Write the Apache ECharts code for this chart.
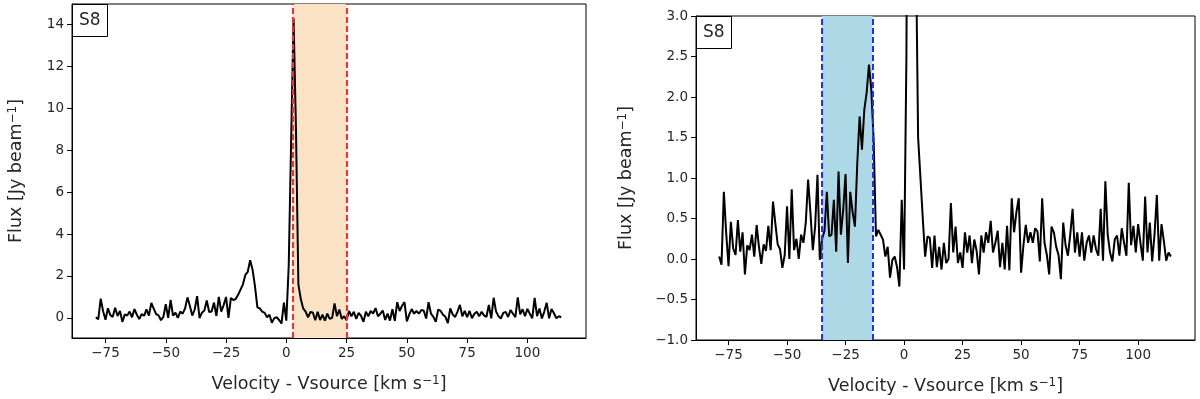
<!DOCTYPE html>
<html>
<head>
<meta charset="utf-8">
<script src="https://cdn.jsdelivr.net/npm/echarts@6/dist/echarts.min.js"></script>
<style>
  html, body { margin: 0; padding: 0; background: #fff; }
  #chart { width: 1200px; height: 399px; }
</style>
</head>
<body>
<div id="chart"></div>
<script>
// velocity channels (km/s)
const velocity = [
  -79, -78, -77, -76, -75, -74, -73, -72, -71, -70,
  -69, -68, -67, -66, -65, -64, -63, -62, -61, -60,
  -59, -58, -57, -56, -55, -54, -53, -52, -51, -50,
  -49, -48, -47, -46, -45, -44, -43, -42, -41, -40,
  -39, -38, -37, -36, -35, -34, -33, -32, -31, -30,
  -29, -28, -27, -26, -25, -24, -23, -22, -21, -20,
  -19, -18, -17, -16, -15, -14, -13, -12, -11, -10,
  -9, -8, -7, -6, -5, -4, -3, -2, -1, 0,
  1, 2, 3, 4, 5, 6, 7, 8, 9, 10,
  11, 12, 13, 14, 15, 16, 17, 18, 19, 20,
  21, 22, 23, 24, 25, 26, 27, 28, 29, 30,
  31, 32, 33, 34, 35, 36, 37, 38, 39, 40,
  41, 42, 43, 44, 45, 46, 47, 48, 49, 50,
  51, 52, 53, 54, 55, 56, 57, 58, 59, 60,
  61, 62, 63, 64, 65, 66, 67, 68, 69, 70,
  71, 72, 73, 74, 75, 76, 77, 78, 79, 80,
  81, 82, 83, 84, 85, 86, 87, 88, 89, 90,
  91, 92, 93, 94, 95, 96, 97, 98, 99, 100,
  101, 102, 103, 104, 105, 106, 107, 108, 109, 110,
  111, 112, 113, 114
];

// left panel spectrum (Jy/beam)
const fluxLeft = [
  0.03, -0.07, 0.92, 0.32, -0.09, 0.46, 0.13, 0.05, 0.48, 0.09,
  0.33, -0.19, 0.17, 0.11, 0.30, 0.03, 0.42, 0.15, -0.06, 0.18,
  0.10, 0.41, 0.11, 0.71, 0.44, 0.18, 0.12, -0.11, 0.05, 0.65,
  0.00, 0.86, 0.11, 0.25, 0.00, 0.30, 0.20, 0.45, 0.98, 0.57,
  0.11, 0.40, 1.04, -0.01, 0.25, 0.35, 0.83, 0.28, 0.30, 0.73,
  0.09, 1.00, 0.30, 0.61, 1.00, 0.00, 0.95, 0.85, 0.90, 1.10,
  1.35, 1.60, 2.05, 2.20, 2.75, 2.30, 1.50, 0.50, 0.45, 0.30,
  0.24, 0.03, 0.15, -0.23, -0.01, 0.03, -0.10, -0.27, 0.73, -0.13,
  2.5, 8.5, 14.3, 9.0, 1.6, 0.9, 0.45, 0.3, 0.03, 0.28,
  0.26, -0.11, 0.29, -0.10, 0.15, -0.13, 0.20, -0.05, 0.00, 0.69,
  0.08, 0.40, -0.05, 0.08, -0.11, 0.33, 0.08, 0.29, -0.05, 0.24,
  0.10, -0.19, 0.29, 0.08, 0.33, 0.20, 0.47, 0.08, 0.20, 0.35,
  -0.10, 0.20, -0.13, 0.41, -0.14, 0.75, 0.33, 0.58, 0.75, -0.17,
  0.17, 0.42, 0.20, 0.33, 0.20, 0.38, 0.34, -0.03, 0.75, 0.20,
  0.05, -0.19, 0.40, 0.33, 0.15, 0.05, -0.25, 0.45, 0.17, 0.04,
  0.30, 0.62, 0.08, 0.33, 0.03, 0.33, -0.02, 0.20, 0.29, 0.08,
  0.29, 0.12, 0.04, 0.62, -0.02, 0.96, 0.30, 0.08, -0.03, 0.24,
  0.29, 0.04, 0.38, 0.20, 0.04, 0.98, 0.17, 0.41, 0.08, 0.43,
  0.20, -0.02, 0.95, 0.08, 0.45, -0.03, 0.30, 0.72, -0.02, 0.43,
  0.22, -0.02, 0.08, 0.03
];

// right panel spectrum (Jy/beam), zoomed y range
const fluxRight = [
  0.03, -0.07, 0.83, 0.32, -0.09, 0.46, 0.13, 0.05, 0.48, 0.09,
  0.33, -0.19, 0.17, 0.11, 0.30, 0.03, 0.42, 0.15, -0.06, 0.18,
  0.10, 0.41, 0.11, 0.71, 0.44, 0.18, 0.12, -0.11, 0.05, 0.65,
  0.00, 0.86, 0.11, 0.25, 0.00, 0.30, 0.20, 0.45, 0.98, 0.57,
  0.11, 0.40, 1.04, -0.01, 0.25, 0.35, 0.83, 0.28, 0.30, 0.73,
  0.09, 1.08, 0.30, 0.61, 1.05, -0.05, 0.83, 0.58, 0.40, 1.18,
  1.76, 1.35, 1.84, 2.05, 2.40, 2.09, 1.47, 0.28, 0.36, 0.30,
  0.24, 0.03, 0.15, -0.23, -0.01, 0.03, -0.10, -0.34, 0.73, -0.13,
  2.5, 8.5, 14.3, 10.0, 4.0, 1.5, 1.0, 0.5, 0.03, 0.28,
  0.26, -0.11, 0.29, -0.10, 0.15, -0.13, 0.20, -0.05, 0.00, 0.69,
  0.08, 0.40, -0.05, 0.08, -0.11, 0.33, 0.08, 0.29, -0.05, 0.24,
  0.10, -0.19, 0.29, 0.08, 0.33, 0.20, 0.47, 0.08, 0.20, 0.35,
  -0.10, 0.20, -0.13, 0.41, -0.14, 0.75, 0.33, 0.58, 0.75, -0.17,
  0.17, 0.42, 0.20, 0.33, 0.20, 0.38, 0.34, -0.03, 0.75, 0.20,
  0.05, -0.19, 0.40, 0.33, 0.15, 0.05, -0.25, 0.45, 0.17, 0.04,
  0.30, 0.62, 0.08, 0.33, 0.03, 0.33, -0.02, 0.20, 0.29, 0.08,
  0.29, 0.12, 0.04, 0.62, -0.02, 0.96, 0.30, 0.08, -0.03, 0.24,
  0.29, 0.04, 0.38, 0.20, 0.04, 0.94, 0.17, 0.41, 0.08, 0.43,
  0.20, -0.02, 0.77, 0.08, 0.45, -0.03, 0.30, 0.79, -0.02, 0.43,
  0.22, -0.02, 0.08, 0.03
];

// integration windows
const windowLeft = [2.5, 25];
const windowRight = [-35, -13.5];

const xTicks = [-75, -50, -25, 0, 25, 50, 75, 100];
const yTicksLeft = [0, 2, 4, 6, 8, 10, 12, 14];
const yTicksRight = [-1, -0.5, 0, 0.5, 1, 1.5, 2, 2.5, 3];
const panelLabel = "S8";

const FONT = "DejaVu Sans";
const TXT = "#262626";

function minus(s) {
  return String(s).replace("-", "\u2212");
}

function toPairs(xs, ys) {
  return xs.map((x, i) => [x, ys[i]]);
}

function xAxisFor(gridIndex) {
  return {
    type: "value",
    gridIndex: gridIndex,
    min: -88.9,
    max: 124.3,
    name: "Velocity - Vsource [km s{sup|\u22121}]",
    nameLocation: "middle",
    nameGap: 37,
    nameTextStyle: {
      fontFamily: FONT,
      fontSize: 17.5,
      color: TXT,
      rich: { sup: { fontFamily: FONT, fontSize: 12, color: TXT, verticalAlign: "top" } }
    },
    axisLine: { show: true, onZero: false, lineStyle: { color: "#000", width: 1 } },
    axisTick: { show: true, inside: false, length: 5, customValues: xTicks, lineStyle: { color: "#000" } },
    axisLabel: {
      customValues: xTicks,
      margin: 8,
      fontFamily: FONT,
      fontSize: 13.5,
      color: TXT,
      formatter: v => minus(v)
    },
    splitLine: { show: false }
  };
}

function yAxisFor(gridIndex, lo, hi, ticks, fmt, gap) {
  return {
    type: "value",
    gridIndex: gridIndex,
    min: lo,
    max: hi,
    name: "Flux [Jy beam{sup|\u22121}]",
    nameLocation: "middle",
    nameGap: gap,
    nameTextStyle: {
      fontFamily: FONT,
      fontSize: 17.5,
      color: TXT,
      rich: { sup: { fontFamily: FONT, fontSize: 12, color: TXT, verticalAlign: "top" } }
    },
    axisLine: { show: true, onZero: false, lineStyle: { color: "#000", width: 1 } },
    axisTick: { show: true, inside: false, length: 5, customValues: ticks, lineStyle: { color: "#000" } },
    axisLabel: {
      customValues: ticks,
      margin: 8,
      fontFamily: FONT,
      fontSize: 13.5,
      color: TXT,
      formatter: fmt
    },
    splitLine: { show: false }
  };
}

function spectrumSeries(idx, flux, win, fill, edge) {
  return {
    type: "line",
    xAxisIndex: idx,
    yAxisIndex: idx,
    data: toPairs(velocity, flux),
    showSymbol: false,
    symbol: "none",
    clip: true,
    lineStyle: { color: "#000", width: 2 },
    z: 3,
    markArea: {
      silent: true,
      itemStyle: { color: fill },
      data: [[{ xAxis: win[0] }, { xAxis: win[1] }]]
    },
    markLine: {
      silent: true,
      symbol: "none",
      label: { show: false },
      lineStyle: { color: edge, type: [6, 3], width: 2 },
      data: [{ xAxis: win[0] }, { xAxis: win[1] }]
    }
  };
}

const chart = echarts.init(document.getElementById("chart"), null, { renderer: "canvas" });

chart.setOption({
  animation: false,
  backgroundColor: "#fff",
  title: [
    {
      text: panelLabel,
      left: 72,
      top: 4,
      padding: [8, 7, 8, 7],
      borderColor: "#000",
      borderWidth: 1,
      backgroundColor: "#fff",
      textStyle: { fontFamily: FONT, fontSize: 17, fontWeight: "normal", color: TXT }
    },
    {
      text: panelLabel,
      left: 696,
      top: 16,
      padding: [8, 7, 8, 7],
      borderColor: "#000",
      borderWidth: 1,
      backgroundColor: "#fff",
      textStyle: { fontFamily: FONT, fontSize: 17, fontWeight: "normal", color: TXT }
    }
  ],
  grid: [
    { left: 72, top: 4, width: 514, height: 334, show: true, borderColor: "#000", borderWidth: 1, outerBoundsMode: "none" },
    { left: 696, top: 16, width: 499, height: 324, show: true, borderColor: "#000", borderWidth: 1, outerBoundsMode: "none" }
  ],
  xAxis: [xAxisFor(0), xAxisFor(1)],
  yAxis: [
    yAxisFor(0, -0.96, 14.98, yTicksLeft, v => minus(v), 47),
    yAxisFor(1, -1, 3, yTicksRight, v => minus(v.toFixed(1)), 61)
  ],
  series: [
    spectrumSeries(0, fluxLeft, windowLeft, "#FDE3C5", "#FF2A2A"),
    spectrumSeries(1, fluxRight, windowRight, "#ADD8E6", "#1F2FFF")
  ]
});
</script>
</body>
</html>
